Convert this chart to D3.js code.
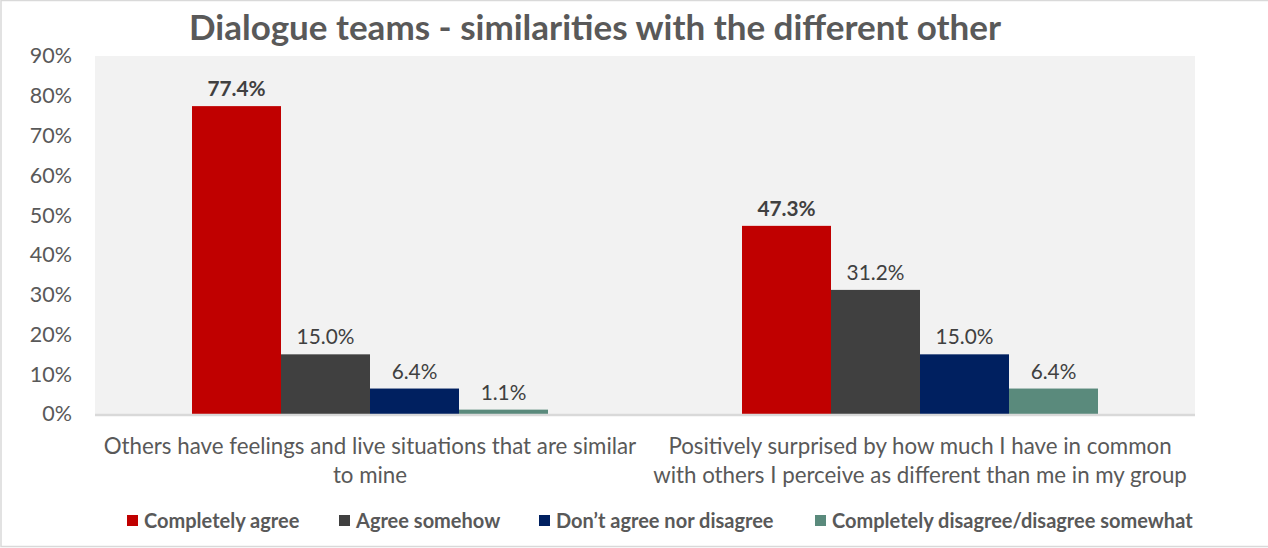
<!DOCTYPE html>
<html>
<head>
<meta charset="utf-8">
<script src="https://cdn.jsdelivr.net/npm/d3@7"></script>
<style>
  html, body { margin: 0; padding: 0; background: #fff; }
  svg { display: block; font-family: Lato, "Open Sans", sans-serif; }
</style>
</head>
<body>
<svg id="chart" width="1268" height="548"></svg>
<script>
// Survey statements (x categories), wrapped onto two lines each
const categories = [
  ["Others have feelings and live situations that are similar", "to mine"],
  ["Positively surprised by how much I have in common", "with others I perceive as different than me in my group"]
];
const seriesNames = [
  "Completely agree",
  "Agree somehow",
  "Don\u2019t agree nor disagree",
  "Completely disagree/disagree somewhat"
];
const seriesColors = ["#c00000", "#404040", "#002060", "#5a8a7c"];
// Percentages per statement, in series order
const valuesStatement1 = [77.4, 15.0, 6.4, 1.1];
const valuesStatement2 = [47.3, 31.2, 15.0, 6.4];
const yTicks = [0, 10, 20, 30, 40, 50, 60, 70, 80, 90];

const svg = d3.select("#chart");
const W = 1268, H = 548;
const plot = { left: 95, right: 1195, top: 56, bottom: 414 };

// Outer chart frame
svg.append("rect").attr("x", 1).attr("y", 0.5).attr("width", W + 2).attr("height", 546)
  .attr("fill", "#fff").attr("stroke", "#d9d9d9").attr("stroke-width", 1.5);

// Plot background
svg.append("rect")
  .attr("x", plot.left).attr("y", plot.top)
  .attr("width", plot.right - plot.left).attr("height", plot.bottom - plot.top)
  .attr("fill", "#f2f2f2");

const x0 = d3.scaleBand().domain(d3.range(categories.length))
  .range([plot.left, plot.right]).paddingInner(0).paddingOuter(0);
const x1 = d3.scaleBand().domain(d3.range(seriesNames.length))
  .range([97, x0.bandwidth() - 97]);
const y = d3.scaleLinear().domain([0, 90]).range([plot.bottom, plot.top]);

// Y axis labels
const yAxis = d3.axisLeft(y).tickValues(yTicks).tickFormat(d => d + "%").tickSize(0).tickPadding(0);
const gy = svg.append("g").attr("transform", `translate(72,0)`).call(yAxis);
gy.select(".domain").remove();
gy.selectAll("text").attr("fill", "#595959").style("font-size", "21.5px")
  .style("font-family", "Lato, sans-serif");

const data = [valuesStatement1, valuesStatement2];

const groups = svg.append("g").selectAll("g").data(data).join("g")
  .attr("transform", (d, i) => `translate(${x0(i)},0)`);

groups.selectAll("rect").data(d => d).join("rect")
  .attr("x", (d, j) => x1(j))
  .attr("y", d => y(d))
  .attr("width", x1.bandwidth())
  .attr("height", d => y(0) - y(d))
  .attr("fill", (d, j) => seriesColors[j]);

groups.selectAll("text.val").data(d => d).join("text")
  .attr("class", "val")
  .attr("x", (d, j) => x1(j) + x1.bandwidth() / 2)
  .attr("y", d => y(d) - 10)
  .attr("text-anchor", "middle")
  .attr("fill", "#404040")
  .style("font-size", "20.8px")
  .style("font-weight", (d, j) => j === 0 ? "bold" : "normal")
  .text(d => d.toFixed(1) + "%");

// Baseline
svg.append("line").attr("x1", plot.left).attr("x2", plot.right)
  .attr("y1", plot.bottom + 1).attr("y2", plot.bottom + 1)
  .attr("stroke", "#d9d9d9").attr("stroke-width", 2.5);

// Category labels
const catG = svg.append("g").selectAll("text").data(categories).join("text")
  .attr("x", (d, i) => x0(i) + x0.bandwidth() / 2)
  .attr("y", 454)
  .attr("text-anchor", "middle")
  .attr("fill", "#595959")
  .style("font-size", "22.3px");
catG.selectAll("tspan").data(d => d).join("tspan")
  .attr("x", function() { return this.parentNode.getAttribute("x"); })
  .attr("dy", (d, k) => k === 0 ? 0 : 29)
  .text(d => d);

// Title
svg.append("text").attr("x", 595).attr("y", 40)
  .attr("text-anchor", "middle").attr("fill", "#595959")
  .style("font-size", "35px").style("font-weight", "bold")
  .text("Dialogue teams - similarities with the different other");

// Legend
const legendX = [127, 339, 539, 815];
const lg = svg.append("g").selectAll("g").data(seriesNames).join("g")
  .attr("transform", (d, i) => `translate(${legendX[i]},515)`);
lg.append("rect").attr("width", 11).attr("height", 11).attr("fill", (d, i) => seriesColors[i]);
lg.append("text").attr("x", 17).attr("y", 12.5)
  .attr("fill", "#595959").style("font-size", "20px").style("font-weight", "bold")
  .text(d => d);
</script>
</body>
</html>
